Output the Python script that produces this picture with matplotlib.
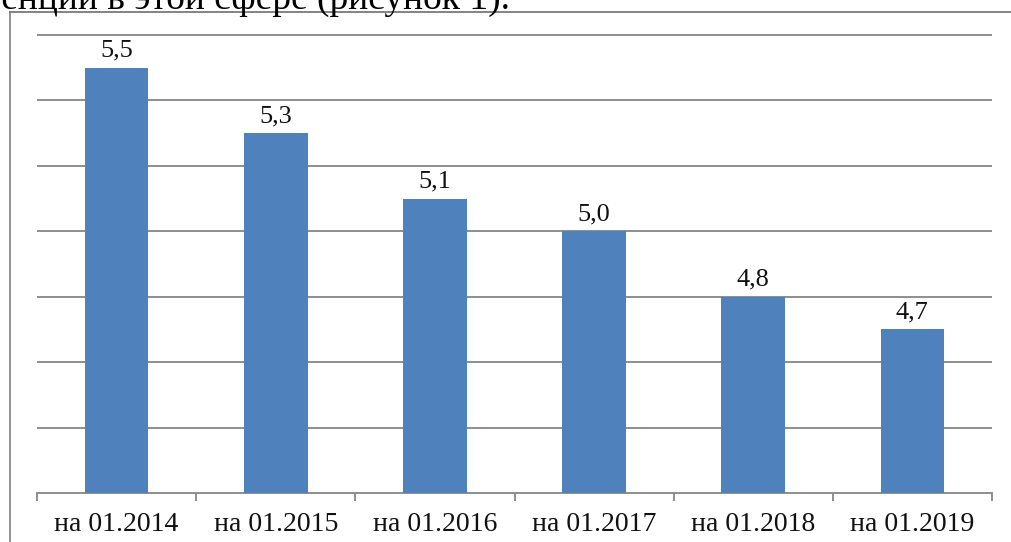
import matplotlib
matplotlib.use("Agg")
import matplotlib.pyplot as plt
from matplotlib.lines import Line2D
import numpy as np

categories = ["на 01.2014", "на 01.2015", "на 01.2016", "на 01.2017", "на 01.2018", "на 01.2019"]
values = [5.5, 5.3, 5.1, 5.0, 4.8, 4.7]
value_labels = ["5,5", "5,3", "5,1", "5,0", "4,8", "4,7"]
caption = "конкуренции в этой сфере (рисунок 1)."

plt.rcParams["font.family"] = "serif"
plt.rcParams["font.serif"] = ["Liberation Serif", "DejaVu Serif"]

W, H = 1011, 542
fig = plt.figure(figsize=(W / 100, H / 100), dpi=100)
fig.patch.set_facecolor("white")

bar_color = "#4F81BD"
grid_color = "#868686"

left, right = 37 / W, 992 / W
bottom, top = (H - 493) / H, (H - 34) / H
ax = fig.add_axes([left, bottom, right - left, top - bottom])

x = np.arange(len(categories))
ax.bar(x, values, width=0.4, color=bar_color, zorder=3)
for xi, v, lab in zip(x, values, value_labels):
    ax.annotate(lab, (xi, v), xytext=(0, 8), textcoords="offset points",
                ha="center", va="baseline", fontsize=19, color="#111111")

ax.set_xlim(-0.5, len(categories) - 0.5)
ax.set_ylim(4.2, 5.603)
yt = np.arange(4.4, 5.61, 0.2)
for y in yt:
    ax.axhline(y, color=grid_color, lw=1.3, zorder=1)

ax.set_yticks([])
ax.set_xticks(np.arange(-0.5, len(categories), 1.0))
ax.set_xticklabels([])
ax.set_xticks(x, minor=True)
ax.set_xticklabels(categories, minor=True, fontsize=20, color="#111111")
ax.tick_params(axis="x", which="major", direction="out", length=6, width=1.3, color=grid_color)
ax.tick_params(axis="x", which="minor", length=0, pad=14)

for s in ["top", "right", "left"]:
    ax.spines[s].set_visible(False)
ax.spines["bottom"].set_color(grid_color)
ax.spines["bottom"].set_linewidth(1.3)
ax.set_facecolor("none")

# outer frame
fx = 10 / W
fy = (H - 12) / H
fig.add_artist(Line2D([fx, fx], [0, fy], transform=fig.transFigure, color="#8a8a8a", lw=1.3))
fig.add_artist(Line2D([fx, 1.0], [fy, fy], transform=fig.transFigure, color="#7a7a7a", lw=1.3))

# caption text, cut at the top edge as in the source image
fig.text(510 / W, (H - 9) / H, caption, ha="right", va="baseline",
         fontsize=27, color="black")

fig.savefig("out.png", dpi=100, facecolor="white")
